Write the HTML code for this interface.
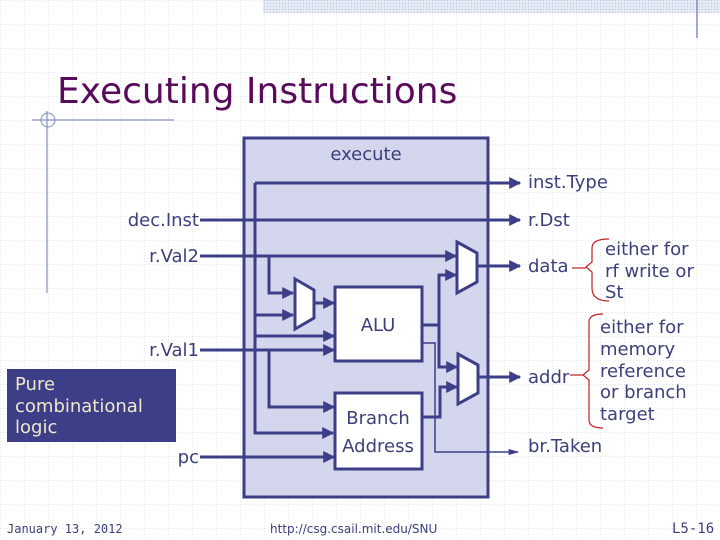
<!DOCTYPE html>
<html><head><meta charset="utf-8"><style>
body{margin:0;width:720px;height:540px;overflow:hidden;background:#fff}
svg{display:block}
</style></head><body>
<svg width="720" height="540" xmlns="http://www.w3.org/2000/svg" font-family="'DejaVu Sans','Liberation Sans',sans-serif">
<defs>
<pattern id="g" width="24" height="24" patternUnits="userSpaceOnUse">
<path d="M0 0H24M0 0V24" stroke="#c8cedc" stroke-width="1" stroke-dasharray="1,2" fill="none"/>
</pattern>
<pattern id="st" width="3" height="3" patternUnits="userSpaceOnUse">
<rect width="3" height="3" fill="#e4e9f4"/><rect width="1" height="1" fill="#b8c4e0"/>
</pattern>
<marker id="a" viewBox="0 0 10 10" refX="9" refY="5" markerWidth="4" markerHeight="4" orient="auto"><path d="M0 0L10 5L0 10z" fill="#3c3f88"/></marker>
<marker id="b" viewBox="0 0 10 10" refX="9" refY="5" markerWidth="7" markerHeight="7" orient="auto"><path d="M0 2L10 5L0 8z" fill="#3c3f88"/></marker>
</defs>
<rect width="720" height="540" fill="url(#g)"/>
<rect x="263" y="0" width="457" height="13" fill="url(#st)"/>
<line x1="697" y1="0" x2="697" y2="38" stroke="#7f8fc0" stroke-width="1.5"/>
<text x="57" y="103" font-size="36" fill="#5a0a5a">Executing Instructions</text>
<line x1="32" y1="120" x2="174" y2="120" stroke="#8090c0" stroke-width="1.2"/>
<line x1="47" y1="111" x2="47" y2="293" stroke="#8090c0" stroke-width="1.2"/>
<circle cx="48" cy="120" r="7" fill="none" stroke="#8090c0" stroke-width="1"/>

<rect x="244" y="138" width="244" height="359" fill="#d3d6ec" stroke="#3c3f88" stroke-width="3"/>
<text x="366" y="160" font-size="18" fill="#3c3f7a" text-anchor="middle">execute</text>

<g stroke="#3c3f88" stroke-width="3" fill="none">
<path d="M255 183H520" marker-end="url(#a)"/>
<path d="M255 183V433H333" marker-end="url(#a)"/>
<line x1="200" y1="220" x2="520" y2="220" marker-end="url(#a)"/>
<line x1="200" y1="256" x2="456" y2="256" marker-end="url(#a)"/>
<path d="M269 256V293H293" marker-end="url(#a)"/>
<path d="M255 315H293" marker-end="url(#a)"/>
<path d="M314 303H334" marker-end="url(#a)"/>
<path d="M255 336H334" marker-end="url(#a)"/>
<line x1="200" y1="350" x2="334" y2="350" marker-end="url(#a)"/>
<path d="M269 350V407H334" marker-end="url(#a)"/>
<line x1="200" y1="457" x2="334" y2="457" marker-end="url(#a)"/>
<path d="M422 325H439V275H456" marker-end="url(#a)"/>
<path d="M439 325V367H457" marker-end="url(#a)"/>
<path d="M422 417H440V387H457" marker-end="url(#a)"/>
<path d="M477 266H520" marker-end="url(#a)"/>
<path d="M478 377H520" marker-end="url(#a)"/>
</g>
<path d="M422 343H435V452H518" stroke="#3c3f88" stroke-width="1.5" fill="none" marker-end="url(#b)"/>
<g fill="#fff" stroke="#3c3f88" stroke-width="3">
<path d="M295 279L314 290V318L295 329Z"/>
<path d="M457 242L477 253V282L457 293Z"/>
<path d="M458 354L478 365V393L458 404Z"/>
<rect x="335" y="287" width="87" height="74"/>
<rect x="335" y="393" width="87" height="76"/>
</g>
<g font-size="18" fill="#3c3f7a">
<text x="378" y="331" text-anchor="middle">ALU</text>
<text x="378" y="424" text-anchor="middle">Branch</text>
<text x="378" y="452" text-anchor="middle">Address</text>
<g text-anchor="end">
<text x="199" y="226">dec.Inst</text>
<text x="199" y="262">r.Val2</text>
<text x="199" y="356">r.Val1</text>
<text x="199" y="463">pc</text>
</g>
<text x="528" y="188">inst.Type</text>
<text x="528" y="226">r.Dst</text>
<text x="528" y="272">data</text>
<text x="528" y="383">addr</text>
<text x="528" y="452">br.Taken</text>
<text x="605" y="255">either for</text>
<text x="605" y="277">rf write or</text>
<text x="605" y="298">St</text>
<text x="600" y="333">either for</text>
<text x="600" y="355">memory</text>
<text x="600" y="377">reference</text>
<text x="600" y="398">or branch</text>
<text x="600" y="420">target</text>
</g>
<g stroke="#c02020" stroke-width="1.2" fill="none">
<path d="M609 239Q592 239 592 248V262L586 267L592 272V288Q592 301 609 301"/>
<path d="M572 268H586"/>
<path d="M603 314Q589 314 589 322V370L583 375L589 380V420Q589 428 603 428"/>
<path d="M570 375H583"/>
</g>
<rect x="7" y="369" width="169" height="73" fill="#3c3f88"/>
<g font-size="18" fill="#f0e8c8">
<text x="15" y="390">Pure</text>
<text x="15" y="412">combinational</text>
<text x="15" y="433">logic</text>
</g>
<text x="7" y="533" font-size="12" font-family="'DejaVu Sans Mono','Liberation Mono',monospace" fill="#3c3f7a">January 13, 2012</text>
<text x="270" y="533" font-size="12" fill="#3c3f7a">http://csg.csail.mit.edu/SNU</text>
<text x="672" y="533" font-size="14" font-family="'DejaVu Sans Mono','Liberation Mono',monospace" fill="#3c3f7a">L5-16</text>
</svg>
</body></html>
